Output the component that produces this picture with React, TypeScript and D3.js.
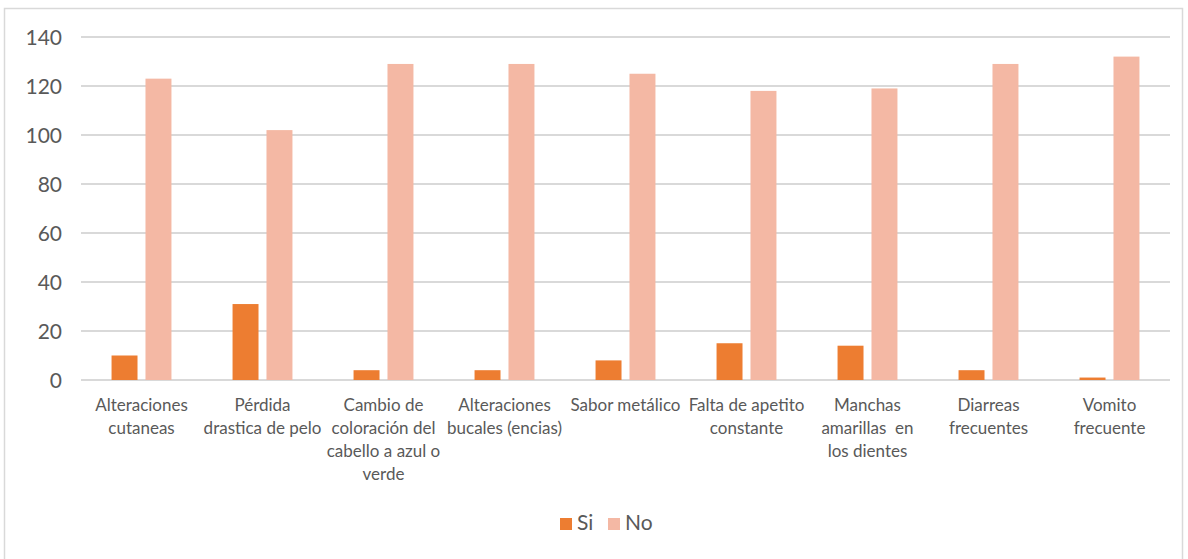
import React from "react";
import * as d3 from "d3";

// Symptom categories, each split into the lines shown under the axis
const categoryLines: string[][] = [
  ["Alteraciones", "cutaneas"],
  ["Pérdida", "drastica de pelo"],
  ["Cambio de", "coloración del", "cabello a azul o", "verde"],
  ["Alteraciones", "bucales (encias)"],
  ["Sabor metálico"],
  ["Falta de apetito", "constante"],
  ["Manchas", "amarillas  en", "los dientes"],
  ["Diarreas", "frecuentes"],
  ["Vomito", "frecuente"],
];
const categories: string[] = categoryLines.map((l) => l.join(" "));

const seriesNames = ["Si", "No"];
const siValues = [10, 31, 4, 4, 8, 15, 14, 4, 1];
const noValues = [123, 102, 129, 129, 125, 118, 119, 129, 132];
const yTicks = [0, 20, 40, 60, 80, 100, 120, 140];

const colors: Record<string, string> = { Si: "#ED7D31", No: "#F4B8A4" };

const W = 1188;
const H = 559;
const plot = { left: 81, right: 1170, top: 37, bottom: 380 };
const FONT = "Lato, 'Open Sans', sans-serif";
const TEXT = "#595959";
const GRID = "#d9d9d9";

export default function App() {
  const x = d3
    .scaleBand<string>()
    .domain(categories)
    .range([plot.left, plot.right])
    .padding(0);

  const xs = d3
    .scaleBand<string>()
    .domain(seriesNames)
    .range([0, x.bandwidth()])
    .paddingInner(0.235)
    .paddingOuter(0.9);

  const y = d3.scaleLinear().domain([0, 140]).range([plot.bottom, plot.top]);

  const valuesBySeries: Record<string, number[]> = { Si: siValues, No: noValues };

  return (
    <div style={{ position: "fixed", left: 0, top: 0 }}>
      <svg width={W} height={H} style={{ display: "block", background: "#fff" }}>
        <rect x={4.5} y={8.5} width={1178} height={H + 10} fill="#fff" stroke={GRID} strokeWidth={1.5} />

        {yTicks.map((t) => (
          <g key={t}>
            <line x1={plot.left} x2={plot.right} y1={y(t)} y2={y(t)} stroke={GRID} strokeWidth={2} />
            <text
              x={62}
              y={y(t)}
              dy="0.36em"
              textAnchor="end"
              fontFamily={FONT}
              fontSize={21}
              fill={TEXT}
            >
              {t}
            </text>
          </g>
        ))}

        {seriesNames.map((s) =>
          categories.map((c, i) => {
            const v = valuesBySeries[s][i];
            return (
              <rect
                key={s + i}
                x={(x(c) ?? 0) + (xs(s) ?? 0)}
                y={y(v)}
                width={xs.bandwidth()}
                height={y(0) - y(v)}
                fill={colors[s]}
              />
            );
          })
        )}

        {categories.map((c, i) => (
          <text
            key={c}
            x={(x(c) ?? 0) + x.bandwidth() / 2}
            y={411}
            textAnchor="middle"
            fontFamily={FONT}
            fontSize={17}
            fill={TEXT}
            style={{ whiteSpace: "pre" }}
          >
            {categoryLines[i].map((line, j) => (
              <tspan key={j} x={(x(c) ?? 0) + x.bandwidth() / 2} dy={j === 0 ? 0 : 23}>
                {line}
              </tspan>
            ))}
          </text>
        ))}

        {/* legend */}
        {seriesNames.map((s, i) => {
          const lx = i === 0 ? 560 : 608;
          return (
            <g key={s}>
              <rect x={lx} y={518} width={12} height={12} fill={colors[s]} />
              <text x={lx + 17} y={530} fontFamily={FONT} fontSize={21} fill={TEXT}>
                {s}
              </text>
            </g>
          );
        })}
      </svg>
    </div>
  );
}
